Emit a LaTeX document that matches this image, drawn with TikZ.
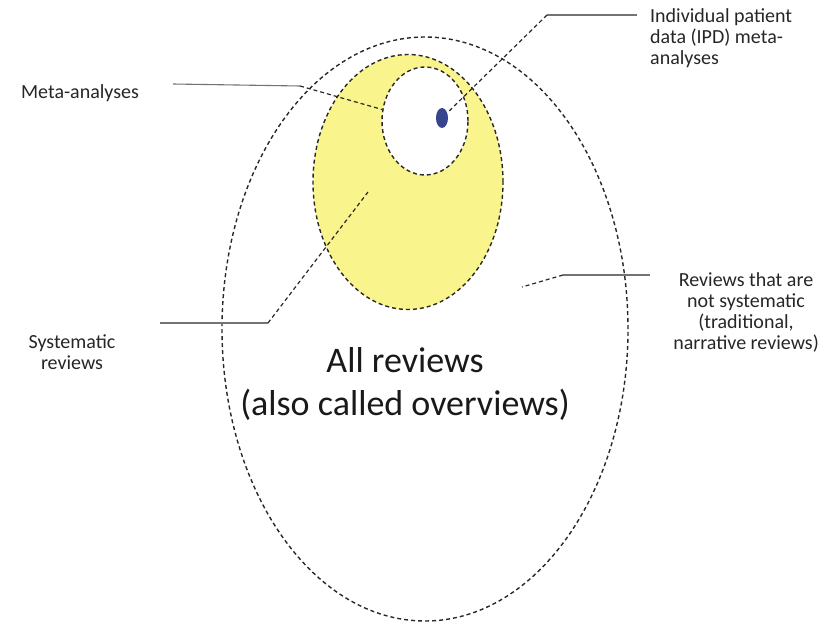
\documentclass[tikz,border=0pt]{standalone}
\usepackage{fontspec}
\setmainfont{Carlito}
\usetikzlibrary{shapes.geometric}
\definecolor{yel}{RGB}{250,244,140}
\definecolor{dotblue}{RGB}{55,70,140}
\definecolor{ln}{RGB}{40,40,40}
\begin{document}
\begin{tikzpicture}[x=1pt,y=-1pt,
 region/.style={ellipse, draw=ln, line width=1.4pt, dash pattern=on 4pt off 3pt, inner sep=0pt},
 lbl/.style={font=\fontsize{20}{21}\selectfont, text=black!85, inner sep=0pt},
 lead/.style={draw=black!55, line width=1.1pt},
 leaddash/.style={draw=ln, line width=1.2pt, dash pattern=on 4pt off 3pt}]
\useasboundingbox (0,0) rectangle (827,623);
\node[region, minimum width=406pt, minimum height=584pt] (all) at (425,329) {};
\node[region, fill=yel, minimum width=190pt, minimum height=255pt] (sr) at (408,182) {};
\node[region, fill=white, minimum width=86pt, minimum height=108pt] (ma) at (425,121) {};
\node[ellipse, fill=dotblue, minimum width=12pt, minimum height=20pt, inner sep=0pt] (ipd) at (442,118) {};
\node[font=\fontsize{36}{43}\selectfont, align=center, text=black!90] (alltxt) at (405,384) {All reviews\\(also called overviews)};
\node[lbl] (lma) at (80,93) {Meta-analyses};
\node[lbl, align=left, anchor=north west] (lipd) at (650,8) {Individual patient\\data (IPD) meta-\\analyses};
\node[lbl, align=center] (lsr) at (72,352) {Systematic\\reviews};
\node[lbl, align=center] (lnr) at (746,312) {Reviews that are\\not systematic\\(traditional,\\narrative reviews)};
\coordinate (ma1) at (173,84);
\coordinate (ma2) at (300,86);
\draw[lead] (ma1) -- (ma2);
\draw[leaddash] (ma2) -- (ma.165);
\coordinate (ipd1) at (637,15);
\coordinate (ipd2) at (547,15);
\draw[lead] (ipd1) -- (ipd2);
\draw[leaddash] (ipd2) -- (ipd);
\coordinate (sr1) at (160,323);
\coordinate (sr2) at (268,323);
\coordinate (sr3) at (368,192);
\draw[lead] (sr1) -- (sr2);
\draw[leaddash] (sr2) -- (sr3);
\coordinate (nr1) at (650,275);
\coordinate (nr2) at (563,275);
\coordinate (nr3) at (522,287);
\draw[lead] (nr1) -- (nr2);
\draw[leaddash] (nr2) -- (nr3);
\end{tikzpicture}
\end{document}
